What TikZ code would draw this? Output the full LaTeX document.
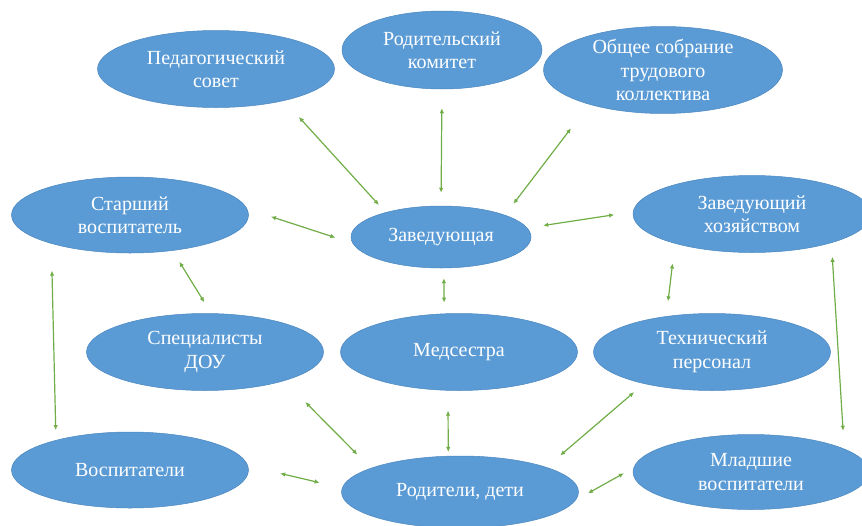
\documentclass[tikz,border=0pt]{standalone}
\usepackage{fontspec}
\setmainfont{Liberation Serif}
\newfontfamily\unitfont{Liberation Serif}
\usetikzlibrary{shapes.geometric,arrows.meta}

\definecolor{ellblue}{HTML}{5B9BD5}
\definecolor{ellline}{HTML}{4A86BF}
\definecolor{arrgreen}{HTML}{70AD47}

\tikzset{
  unit/.style={ellipse, fill=ellblue, draw=ellline, line width=0.5pt, text=white,
    align=center, inner sep=0pt, minimum width=237pt, minimum height=77pt,
    font=\unitfont\fontsize{20}{23.5}\selectfont},
  link/.style={draw=arrgreen, line width=1.2pt,
    {Latex[length=5pt,width=4.5pt]}-{Latex[length=5pt,width=4.5pt]}}
}

\begin{document}
\begin{tikzpicture}[x=1pt,y=-1pt]
            \useasboundingbox (0,0) rectangle (862,525);
            % top row
            \node[unit] (ped) at (216,69) {Педагогический\\совет};
            \node[unit, minimum width=200pt, minimum height=78pt] (rod) at (442,50) {Родительский\\комитет};
            \node[unit, minimum width=239pt, minimum height=76pt] (obsh) at (663,70) {Общее собрание\\трудового\\коллектива};
            % second row
            \node[unit, minimum height=76pt] (star) at (130,215) {Старший\\воспитатель};
            \node[unit, minimum width=180pt, minimum height=62pt] (zav) at (441,237) {Заведующая};
            \node[unit, minimum width=238pt] (zhoz) at (752,214) {Заведующий\\хозяйством};
            % third row
            \node[unit] (spec) at (205,352) {Специалисты\\ДОУ};
            \node[unit] (med) at (459,352) {Медсестра};
            \node[unit] (tech) at (712,352) {Технический\\персонал};
            % bottom row
            \node[unit, minimum height=76pt] (vosp) at (130,470) {Воспитатели};
            \node[unit, minimum height=72pt] (rodd) at (460,492) {Родители, дети};
            \node[unit, minimum width=236pt, minimum height=75pt] (mlad) at (751,472) {Младшие\\воспитатели};
            % links to the head
            \draw[link, shorten <=22pt, shorten >=10pt] (ped.-25) -- (zav.156);
            \draw[link, shorten <=19pt, shorten >=13pt] (rod.south) -- (zav.north);
            \draw[link, shorten <=30pt, shorten >=14pt] (obsh.205) -- (zav.19);
            \draw[link, shorten <=25pt, shorten >=18pt] (star.3) -- (zav.184);
            \draw[link, shorten <=16pt, shorten >=19pt] (zav.6) -- (zhoz.179);
            \draw[link, shorten <=10pt, shorten >=11pt] (zav.-85) -- (med.111);
            % side links
            \draw[link, shorten <=13pt, shorten >=13pt] (star.-40) -- (spec.81);
            \draw[link, shorten <=27pt, shorten >=10pt] (star.200) -- (vosp.158);
            \draw[link, shorten <=20pt, shorten >=15pt] (zhoz.201) -- (tech.142);
            \draw[link, shorten <=14pt, shorten >=18pt] (zhoz.-20) -- (mlad.14);
            % links to parents
            \draw[link, shorten <=30pt, shorten >=19pt] (spec.-20) -- (rodd.165);
            \draw[link, shorten <=20pt, shorten >=4pt] (med.-106) -- (rodd.108);
            \draw[link, shorten <=13pt, shorten >=18pt] (tech.205) -- (rodd.16);
            \draw[link, shorten <=33pt, shorten >=23pt] (vosp.2) -- (rodd.178);
            \draw[link, shorten <=14pt, shorten >=11pt] (rodd.-4) -- (mlad.178);
        \end{tikzpicture}
\end{document}
